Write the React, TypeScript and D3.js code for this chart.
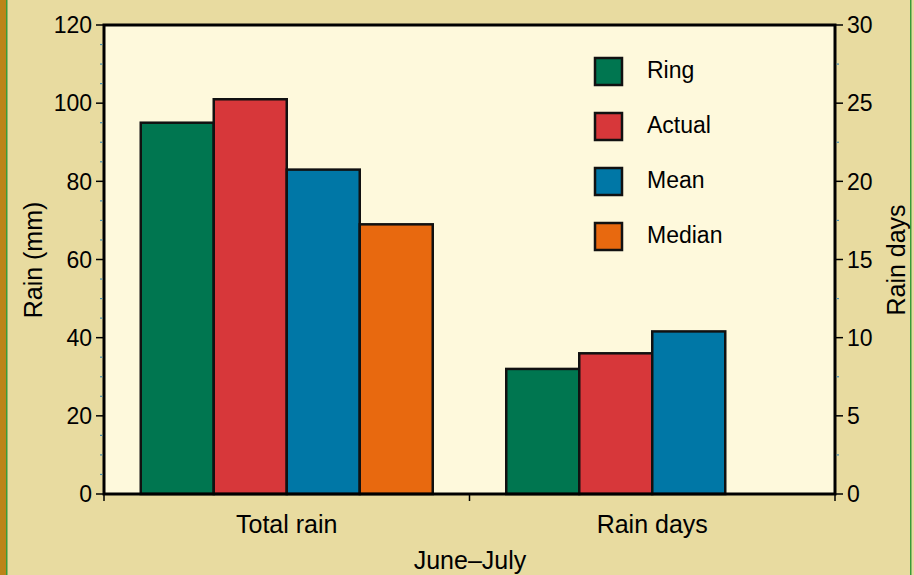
import * as d3 from 'd3'
import { useEffect, useRef } from 'react'

const categories = ['Total rain', 'Rain days']
const seriesNames = ['Ring', 'Actual', 'Mean', 'Median']
const seriesColors = ['#007650', '#d7373a', '#0077a6', '#e8690f']
// values per series: [Total rain (mm), Rain days]
const ring = [95, 8]
const actual = [101, 9]
const mean = [83, 10.4]
const median = [69, null]
const leftTicks = [0, 20, 40, 60, 80, 100, 120]
const rightTicks = [0, 5, 10, 15, 20, 25, 30]

export default function App() {
  const ref = useRef<SVGSVGElement | null>(null)

  useEffect(() => {
    if (!ref.current) return
    const width = 914
    const height = 575
    const margin = { top: 25, right: 79, bottom: 81, left: 104 }
    const font = '"Liberation Sans", Arial, sans-serif'

    const svg = d3.select(ref.current)
    svg.selectAll('*').remove()

    svg.append('rect').attr('width', width).attr('height', height).attr('fill', '#e8dba0')
    svg.append('rect').attr('x', 0).attr('width', 6).attr('height', height).attr('fill', '#bb8418')
    svg.append('rect').attr('x', 6).attr('width', 1.5).attr('height', height).attr('fill', '#3a9a3a')
    svg.append('rect').attr('x', 910).attr('width', 1.5).attr('height', height).attr('fill', '#3a9a3a')

    const x0 = margin.left
    const x1 = width - margin.right
    const yTop = margin.top
    const yBot = height - margin.bottom

    const x = d3.scaleBand().domain(categories).range([x0, x1])
    const xs = d3.scaleBand().domain(seriesNames).range([0, 292])
    const yL = d3.scaleLinear().domain([0, 120]).range([yBot, yTop])
    const yR = d3.scaleLinear().domain([0, 30]).range([yBot, yTop])

    svg.append('rect')
      .attr('x', x0).attr('y', yTop).attr('width', x1 - x0).attr('height', yBot - yTop)
      .attr('fill', '#fef9dc')

    const all = [ring, actual, mean, median]
    const bars = seriesNames.flatMap((name, si) =>
      categories.map((cat, ci) => ({ name, si, cat, ci, v: all[si][ci] }))
    ).filter(d => d.v != null)

    svg.append('g').selectAll('rect').data(bars).join('rect')
      .attr('x', d => x(d.cat)! + (x.bandwidth() - 292) / 2 + xs(d.name)!)
      .attr('width', xs.bandwidth())
      .attr('y', d => d.ci === 0 ? yL(d.v as number) : yR(d.v as number))
      .attr('height', d => yBot - (d.ci === 0 ? yL(d.v as number) : yR(d.v as number)))
      .attr('fill', d => seriesColors[d.si])
      .attr('stroke', '#111')
      .attr('stroke-width', 2.5)

    // frame
    svg.append('rect')
      .attr('x', x0).attr('y', yTop).attr('width', x1 - x0).attr('height', yBot - yTop)
      .attr('fill', 'none').attr('stroke', '#000').attr('stroke-width', 3)

    // minor ticks
    const minorL = d3.range(5, 120, 5).filter(v => v % 20 !== 0)
    svg.append('g').selectAll('line').data(minorL).join('line')
      .attr('x1', x0 - 4).attr('x2', x0 - 1.5)
      .attr('y1', d => yL(d)).attr('y2', d => yL(d))
      .attr('stroke', '#4a8fb0').attr('stroke-width', 1.2)
    const minorR = d3.range(2.5, 30, 5)
    svg.append('g').selectAll('line').data(minorR).join('line')
      .attr('x1', x1 + 1.5).attr('x2', x1 + 4)
      .attr('y1', d => yR(d)).attr('y2', d => yR(d))
      .attr('stroke', '#4a8fb0').attr('stroke-width', 1.2)

    // major ticks + labels
    const left = svg.append('g')
    left.selectAll('line').data(leftTicks).join('line')
      .attr('x1', x0 - 8).attr('x2', x0).attr('y1', d => yL(d)).attr('y2', d => yL(d))
      .attr('stroke', '#000').attr('stroke-width', 1.5)
    left.selectAll('text').data(leftTicks).join('text')
      .attr('x', x0 - 12).attr('y', d => yL(d)).attr('dy', '0.36em')
      .attr('text-anchor', 'end').attr('font-family', font).attr('font-size', 23)
      .text(d => d)

    const right = svg.append('g')
    right.selectAll('line').data(rightTicks).join('line')
      .attr('x1', x1).attr('x2', x1 + 8).attr('y1', d => yR(d)).attr('y2', d => yR(d))
      .attr('stroke', '#000').attr('stroke-width', 1.5)
    right.selectAll('text').data(rightTicks).join('text')
      .attr('x', x1 + 12).attr('y', d => yR(d)).attr('dy', '0.36em')
      .attr('text-anchor', 'start').attr('font-family', font).attr('font-size', 23)
      .text(d => d)

    // bottom ticks at band edges
    const edges = [x0, x(categories[1])!, x1]
    svg.append('g').selectAll('line').data(edges).join('line')
      .attr('x1', d => d).attr('x2', d => d).attr('y1', yBot).attr('y2', yBot + 7)
      .attr('stroke', '#000').attr('stroke-width', 1.5)
    svg.append('g').selectAll('text').data(categories).join('text')
      .attr('x', d => x(d)! + x.bandwidth() / 2).attr('y', yBot + 39)
      .attr('text-anchor', 'middle').attr('font-family', font).attr('font-size', 25)
      .text(d => d)

    svg.append('text')
      .attr('x', 470).attr('y', 569).attr('text-anchor', 'middle')
      .attr('font-family', font).attr('font-size', 25).text('June–July')
    svg.append('text')
      .attr('transform', `translate(42, 260) rotate(-90)`).attr('text-anchor', 'middle')
      .attr('font-family', font).attr('font-size', 25).text('Rain (mm)')
    svg.append('text')
      .attr('transform', `translate(905, 260) rotate(-90)`).attr('text-anchor', 'middle')
      .attr('font-family', font).attr('font-size', 25).text('Rain days')

    // legend
    const lg = svg.append('g').selectAll('g').data(seriesNames).join('g')
      .attr('transform', (_, i) => `translate(595, ${58 + i * 55})`)
    lg.append('rect').attr('width', 27).attr('height', 27)
      .attr('fill', (_, i) => seriesColors[i]).attr('stroke', '#111').attr('stroke-width', 2.5)
    lg.append('text').attr('x', 52).attr('y', 12).attr('dy', '0.36em')
      .attr('font-family', font).attr('font-size', 23).text(d => d)
  }, [])

  return (
    <svg ref={ref} width={914} height={575}
      style={{ position: 'absolute', left: 0, top: 0, display: 'block' }} />
  )
}
